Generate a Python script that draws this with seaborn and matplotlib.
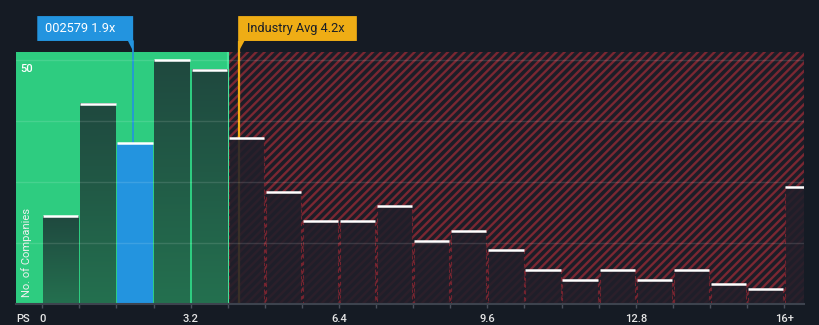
import numpy as np
import matplotlib
matplotlib.use("Agg")
import matplotlib.pyplot as plt
import seaborn as sns
from matplotlib.colors import LinearSegmentedColormap
from matplotlib.patches import FancyBboxPatch, Polygon

# ---------------- data ----------------
bin_edges = [0.0, 0.8, 1.6, 2.4, 3.2, 4.0, 4.8, 5.6, 6.4, 7.2, 8.0, 8.8,
             9.6, 10.4, 11.2, 12.0, 12.8, 13.6, 14.4, 15.2, 16.0, 16.8]
counts = [18, 41, 33, 50, 48, 34, 23, 17, 17, 20, 13, 15, 11, 7, 5, 7, 5, 7, 4, 3, 24]
tick_values = [0, 3.2, 6.4, 9.6, 12.8, 16]
tick_labels = ["0", "3.2", "6.4", "9.6", "12.8", "16+"]
company_ps = 1.96
industry_avg = 4.24
fair_limit = 4.0
company_label = "002579 1.9x"
industry_label = "Industry Avg 4.2x"
y_label = "No. of Companies"
x_label = "PS"
y_tick_value = 50

# ---------------- style ----------------
BG = "#151b24"
GREEN = "#2ecc80"
BLUE = "#2394df"
ORANGE = "#efad15"
RED_HATCH = "#7a2732"

sns.set_theme(style="dark")
plt.rcParams["font.family"] = ["Roboto", "DejaVu Sans"]
plt.rcParams["hatch.linewidth"] = 1.7

fig = plt.figure(figsize=(8.2, 3.25), dpi=100, facecolor=BG)
ax = fig.add_axes([16 / 820, 21 / 325, 788 / 820, 252 / 325])
ax.set_facecolor(BG)

XMIN, XMAX = -0.567, 16.43
YMAX = 51.64

centers = [(bin_edges[i] + bin_edges[i + 1]) / 2 for i in range(len(counts))]
sns.histplot(x=centers, weights=counts, bins=bin_edges, shrink=0.95, ax=ax,
             stat="count", element="bars", zorder=3)
bars = list(ax.patches)

# background regions
ax.axvspan(XMIN, fair_limit, color=GREEN, zorder=0, lw=0)
ax.axvspan(fair_limit, XMAX, facecolor="#1c1d27", edgecolor=RED_HATCH,
           hatch="////", lw=0, zorder=0)
ax.axvline(fair_limit, color="#45e39a", lw=1.6, zorder=1)

# industry average line (behind bars)
box_bottom = 53.9
box_top = 59.0
ax.plot([industry_avg, industry_avg], [0, box_bottom], color=ORANGE, lw=1.6,
        zorder=2, clip_on=False, solid_capstyle="butt")

cmap = LinearSegmentedColormap.from_list("g", ["#24704f", "#1f493f"])
grad = np.linspace(0, 1, 64).reshape(-1, 1)
for p, c in zip(bars, counts):
    x, w, h = p.get_x(), p.get_width(), p.get_height()
    right = x + w
    if x <= company_ps <= right:
        p.set_facecolor(BLUE)
        p.set_edgecolor("none")
        p.set_linewidth(0)
    elif right <= fair_limit + 0.01:
        p.set_facecolor("none")
        p.set_edgecolor("none")
        p.set_linewidth(0)
        ax.imshow(grad, extent=[x, right, 0, h], origin="lower", cmap=cmap,
                  aspect="auto", zorder=3, interpolation="bilinear")
    else:
        p.set_facecolor((0.125, 0.12, 0.165, 0.88))
        p.set_edgecolor("#74232f")
        p.set_linestyle((0, (3, 3)))
        p.set_linewidth(0.8)
    ax.plot([x, right], [h, h], color="white", lw=1.8, zorder=5,
            solid_capstyle="butt")

# company marker line
ax.plot([company_ps, company_ps], [counts[2], box_bottom], color=BLUE, lw=1.2,
        zorder=2.5, clip_on=False)

# gridlines
for gy in [12.5, 25, 37.5, 50]:
    ax.axhline(gy, color="white", alpha=0.12, lw=1, zorder=6)

ax.set_xlim(XMIN, XMAX)
ax.set_ylim(0, YMAX)

# annotation boxes
bl = FancyBboxPatch((-0.108, box_bottom), company_ps - (-0.108), box_top - box_bottom,
                    boxstyle="round,pad=0,rounding_size=0.06", fc=BLUE, ec="none",
                    clip_on=False, zorder=8, mutation_aspect=4.88 / 46.36)
ax.add_patch(bl)
ax.add_patch(Polygon([[company_ps - 0.12, box_bottom], [company_ps, box_bottom],
                      [company_ps, 51.8]], closed=True, fc=BLUE, ec="none",
                     clip_on=False, zorder=8))
ax.text(0.065, (box_bottom + box_top) / 2, company_label, color="white",
        fontsize=9.2, ha="left", va="center", zorder=9, clip_on=False)

ob = FancyBboxPatch((industry_avg - 0.015, box_bottom), 6.80 - industry_avg,
                    box_top - box_bottom,
                    boxstyle="round,pad=0,rounding_size=0.06", fc=ORANGE, ec="none",
                    clip_on=False, zorder=8, mutation_aspect=4.88 / 46.36)
ax.add_patch(ob)
ax.add_patch(Polygon([[industry_avg, box_bottom], [industry_avg + 0.12, box_bottom],
                      [industry_avg, 51.8]], closed=True, fc=ORANGE, ec="none",
                     clip_on=False, zorder=8))
ax.text(4.42, (box_bottom + box_top) / 2, industry_label, color="#1b1f27",
        fontsize=9.2, ha="left", va="center", zorder=9, clip_on=False)

# axes decorations
for s in ["top", "right", "left"]:
    ax.spines[s].set_visible(False)
ax.spines["bottom"].set_color("#3d434e")
ax.spines["bottom"].set_linewidth(1.5)
ax.spines["bottom"].set_zorder(7)

ax.set_xticks(bin_edges[:-1])
lbls = []
for e in bin_edges[:-1]:
    lab = ""
    for tv, tl in zip(tick_values, tick_labels):
        if abs(tv - e) < 1e-6:
            lab = tl
    lbls.append(lab)
ax.set_xticklabels(lbls)
ax.tick_params(axis="x", bottom=True, length=3, width=1, color="#4a505c",
               labelsize=8, labelcolor="#e6e6e6", pad=4)
for t in ax.get_xticklabels():
    t.set_fontweight("medium")
ax.set_yticks([])
ax.set_xlabel("")
ax.set_ylabel("")
ax.grid(False)

ax.annotate(x_label, xy=(-0.41, 0), xycoords=("data", "axes fraction"),
            xytext=(0, -7), textcoords="offset points", color="#e6e6e6",
            fontsize=8, fontweight="medium", ha="center", va="top",
            annotation_clip=False)
ax.text(-0.33, y_tick_value - 1.8, str(y_tick_value), color="white", fontsize=8,
        fontweight="medium", ha="center", va="center", zorder=9)
ax.text(-0.33, 10.6, y_label, color="#f0f0f0", fontsize=8, rotation=90,
        ha="center", va="center", zorder=9)

fig.savefig("out.png", dpi=100, facecolor=BG)
